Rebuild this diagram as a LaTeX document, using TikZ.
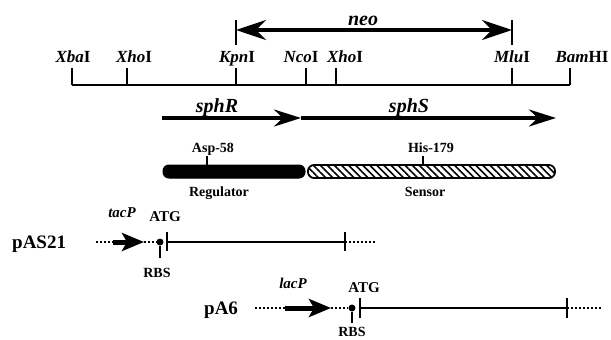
\documentclass[tikz,border=0pt]{standalone}
\usepackage{fontspec}
\setmainfont{Liberation Serif}
\usetikzlibrary{positioning, arrows.meta, patterns.meta}

\begin{document}
\begin{tikzpicture}[
        x=1pt, y=-1pt,
        site/.style={font=\fontsize{17}{19}\selectfont\bfseries, inner sep=0pt, anchor=base},
        gname/.style={font=\fontsize{20}{22}\selectfont\bfseries\itshape, inner sep=0pt, anchor=base},
        pname/.style={font=\fontsize{15}{17}\selectfont\bfseries\itshape, inner sep=0pt, anchor=base},
        tag/.style={font=\fontsize{14}{16}\selectfont\bfseries, inner sep=0pt, anchor=base},
        plas/.style={font=\fontsize{19}{21}\selectfont\bfseries, inner sep=0pt, anchor=base west},
        mapline/.style={line width=1.8pt},
        gene/.style={line width=3.2pt, -{Stealth[length=27pt, width=17pt]}},
        prom/.style={line width=5pt, -{Stealth[length=22pt, width=18pt, inset=5pt]}},
        dots/.style={line width=1.4pt, dash pattern=on 2pt off 2pt},
        rbs/.style={circle, fill, inner sep=0pt, minimum size=7pt}
    ]
    \useasboundingbox (0,0) rectangle (611,340);

    % Restriction map
    \coordinate (xba) at (72,85);
    \coordinate (xhoa) at (127,85);
    \coordinate (kpn) at (236,85);
    \coordinate (nco) at (306,85);
    \coordinate (xhob) at (336,85);
    \coordinate (mlu) at (512,85);
    \coordinate (bam) at (570,85);
    \draw[mapline] (xba) -- (bam);
    \foreach \c in {xba,xhoa,kpn,nco,xhob,mlu,bam}
        \draw[mapline] (\c) -- ++(0,-17);

    \node[site] (xbaL) at (73,62) {\textit{Xba}I};
    \node[site] (xhoaL) at (134,62) {\textit{Xho}I};
    \node[site] (kpnL) at (237,62) {\textit{Kpn}I};
    \node[site] (ncoL) at (301,62) {\textit{Nco}I};
    \node[site] (xhobL) at (345,62) {\textit{Xho}I};
    \node[site] (mluL) at (512,62) {\textit{Mlu}I};
    \node[site] (bamL) at (582,62) {\textit{Bam}HI};

    % neo fragment
    \coordinate (neoA) at (236,30);
    \coordinate (neoB) at (512,30);
    \draw[mapline] (236,20) -- (236,45);
    \draw[mapline] (512,20) -- (512,45);
    \draw[line width=3.2pt, {Stealth[length=30pt, width=20pt]}-{Stealth[length=30pt, width=20pt]}] (neoA) -- (neoB);
    \node[gname] (neo) at (363,25) {neo};

    % Genes
    \coordinate (rA) at (162,118);
    \coordinate (rB) at (301,118);
    \coordinate (sB) at (556,118);
    \draw[gene] (rA) -- (rB);
    \draw[gene] (rB) -- (sB);
    \node[gname] (sphR) at (217,112) {sphR};
    \node[gname] (sphS) at (409,112) {sphS};

    % Protein domains
    \draw[fill=black, rounded corners=6pt, line width=1pt] (163,165) rectangle (305,178);
    \draw[pattern={Lines[angle=-45, distance=5pt, line width=1.6pt]}, rounded corners=6pt, line width=1.8pt] (308,165) rectangle (555,178);
    \draw[line width=1.2pt] (207,165) -- (207,156);
    \draw[line width=1.2pt] (423,165) -- (423,156);
    \node[tag] (asp) at (213,152) {Asp-58};
    \node[tag] (his) at (431,152) {His-179};
    \node[tag] (reg) at (219,196) {Regulator};
    \node[tag] (sen) at (425,196) {Sensor};

    % pAS21
    \node[plas] (pas) at (12,248) {pAS21};
    \coordinate (a1) at (96,242);
    \coordinate (a2) at (113,242);
    \coordinate (a3) at (144,242);
    \node[rbs] (dotA) at (160,242) {};
    \coordinate (atgA) at (167,242);
    \coordinate (endA) at (345,242);
    \coordinate (tailA) at (376,242);
    \draw[dots] (a1) -- (a2);
    \draw[prom] (a2) -- (a3);
    \draw[dots] (a3) -- (dotA);
    \draw[mapline] (atgA) -- (endA);
    \draw[dots] (endA) -- (tailA);
    \draw[mapline] (167,232) -- (167,251);
    \draw[mapline] (345,232) -- (345,251);
    \draw[mapline] (dotA) -- (160,258);
    \node[pname] (tac) at (122,217) {tacP};
    \node[tag, font=\fontsize{15}{17}\selectfont\bfseries] (atgLA) at (165,221) {ATG};
    \node[tag] (rbsA) at (157,277) {RBS};

    % pA6
    \node[plas] (pa6) at (204,314) {pA6};
    \coordinate (b1) at (255,308);
    \coordinate (b2) at (285,308);
    \coordinate (b3) at (331,308);
    \node[rbs] (dotB) at (352,308) {};
    \coordinate (atgB) at (360,308);
    \coordinate (endB) at (567,308);
    \coordinate (tailB) at (601,308);
    \draw[dots] (b1) -- (b2);
    \draw[prom] (b2) -- (b3);
    \draw[dots] (b3) -- (dotB);
    \draw[mapline] (atgB) -- (endB);
    \draw[dots] (endB) -- (tailB);
    \draw[mapline] (360,298) -- (360,318);
    \draw[mapline] (567,298) -- (567,318);
    \draw[mapline] (dotB) -- (352,323);
    \node[pname] (lac) at (293,288) {lacP};
    \node[tag, font=\fontsize{15}{17}\selectfont\bfseries] (atgLB) at (364,292) {ATG};
    \node[tag] (rbsB) at (352,336) {RBS};

\end{tikzpicture}
\end{document}
